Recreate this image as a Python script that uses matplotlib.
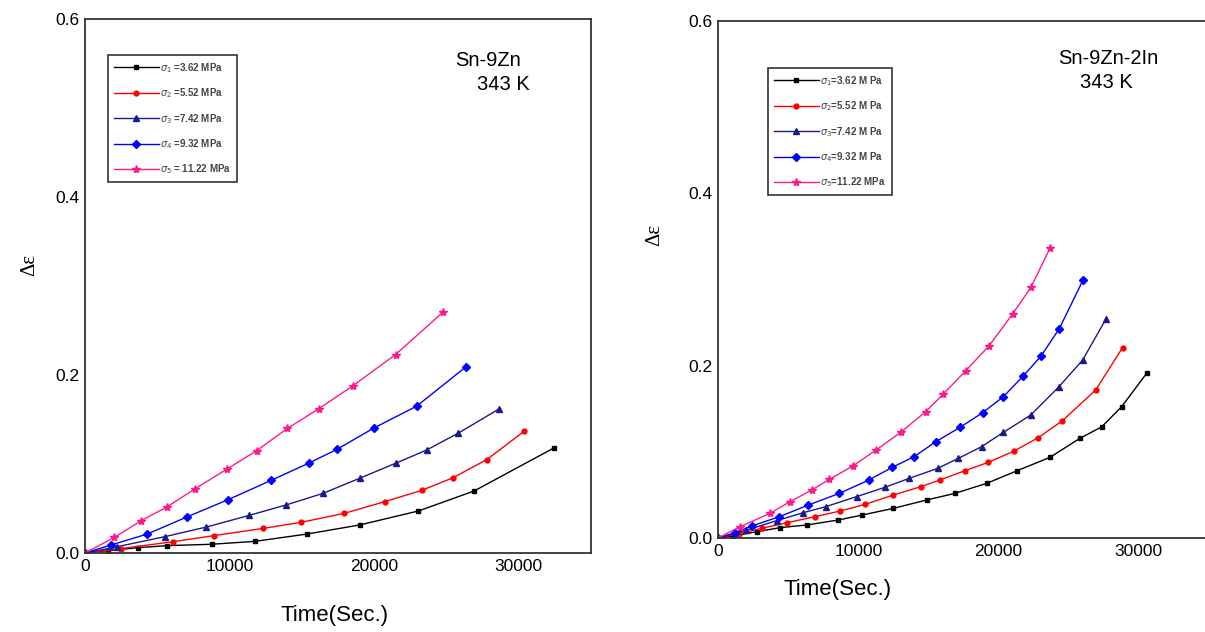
import matplotlib
matplotlib.use("Agg")
import matplotlib.pyplot as plt

plt.rcParams['font.family'] = ['Liberation Sans', 'DejaVu Sans']
plt.rcParams['mathtext.fontset'] = 'dejavusans'

# ---- Sn-9Zn, 343 K ----
t1_s1 = [0, 1570, 3650, 5690, 8750, 11760, 15350, 19000, 23060, 26920, 32430]
e1_s1 = [0, 0.0026, 0.006, 0.0083, 0.0098, 0.0131, 0.0213, 0.0315, 0.0472, 0.0697, 0.118]
t1_s2 = [0, 2500, 6090, 8910, 12340, 14930, 17940, 20740, 23290, 25420, 27800, 30390]
e1_s2 = [0, 0.005, 0.0127, 0.0195, 0.0277, 0.0344, 0.0446, 0.0577, 0.0704, 0.0843, 0.105, 0.137]
t1_s3 = [0, 2200, 5510, 8400, 11365, 13910, 16460, 19000, 21480, 23630, 25830, 28660]
e1_s3 = [0, 0.007, 0.0183, 0.0292, 0.0423, 0.054, 0.067, 0.084, 0.1008, 0.1157, 0.1348, 0.162]
t1_s4 = [0, 1800, 4306, 7035, 9910, 12870, 15460, 17430, 19980, 22940, 26340]
e1_s4 = [0, 0.009, 0.0213, 0.0404, 0.060, 0.0816, 0.1008, 0.1165, 0.1404, 0.165, 0.209]
t1_s5 = [0, 2040, 3890, 5690, 7590, 9790, 11875, 14000, 16160, 18540, 21480, 24790]
e1_s5 = [0, 0.0176, 0.0363, 0.052, 0.0719, 0.094, 0.115, 0.140, 0.162, 0.188, 0.223, 0.271]

# ---- Sn-9Zn-2In, 343 K ----
t2_s1 = [0, 1090, 2760, 4420, 6320, 8580, 10290, 12500, 14870, 16890, 19150, 21330, 23660, 25800, 27350, 28770, 30550]
e2_s1 = [0, 0.0023, 0.0073, 0.012, 0.0151, 0.0209, 0.0267, 0.0344, 0.0441, 0.0518, 0.0634, 0.0781, 0.0936, 0.1157, 0.129, 0.1523, 0.191]
t2_s2 = [0, 1500, 3110, 4940, 6910, 8700, 10480, 12500, 14450, 15820, 17600, 19270, 21100, 22830, 24540, 26920, 28840]
e2_s2 = [0, 0.005, 0.0112, 0.0178, 0.0247, 0.0313, 0.039, 0.0499, 0.0595, 0.0673, 0.0781, 0.0878, 0.1009, 0.1164, 0.136, 0.1717, 0.221]
t2_s3 = [0, 2000, 4180, 6080, 7670, 9880, 11900, 13630, 15660, 17130, 18790, 20340, 22290, 24300, 25990, 27650]
e2_s3 = [0, 0.009, 0.0201, 0.0294, 0.0363, 0.048, 0.0588, 0.0692, 0.0808, 0.0924, 0.106, 0.1226, 0.1427, 0.1755, 0.2065, 0.254]
t2_s4 = [0, 1200, 2400, 4370, 6440, 8650, 10760, 12420, 13970, 15520, 17250, 18860, 20340, 21760, 23020, 24330, 26040]
e2_s4 = [0, 0.006, 0.0139, 0.0247, 0.0383, 0.0518, 0.0673, 0.082, 0.0943, 0.1117, 0.1284, 0.1454, 0.164, 0.188, 0.211, 0.243, 0.300]
t2_s5 = [0, 1570, 3700, 5130, 6680, 7940, 9600, 11260, 13020, 14800, 16060, 17650, 19320, 21000, 22310, 23660]
e2_s5 = [0, 0.0131, 0.0286, 0.0421, 0.0557, 0.068, 0.0835, 0.102, 0.1226, 0.1466, 0.167, 0.194, 0.223, 0.260, 0.291, 0.336]

labels1 = [r'$\sigma_1$ =3.62 MPa', r'$\sigma_2$ =5.52 MPa', r'$\sigma_3$ =7.42 MPa',
           r'$\sigma_4$ =9.32 MPa', r'$\sigma_5$ = 11.22 MPa']
labels2 = [r'$\sigma_1$=3.62 M Pa', r'$\sigma_2$=5.52 M Pa', r'$\sigma_3$=7.42 M Pa',
           r'$\sigma_4$=9.32 M Pa', r'$\sigma_5$=11.22 MPa']

colors = ['black', '#ff0000', '#1a1a8c', '#0000ff', '#ff1a8c']
markers = ['s', 'o', '^', 'D', '*']
msizes = [3, 3.5, 5, 4.5, 6]

fig = plt.figure(figsize=(12.05, 6.32), dpi=100)
ax1 = fig.add_axes([85 / 1205, 1 - 553 / 632, 506 / 1205, 534 / 632])
ax2 = fig.add_axes([718 / 1205, 1 - 538 / 632, 491 / 1205, 517 / 632])


def draw(ax, series, labels, legend_pos):
    for (t, e), lab, c, m, ms in zip(series, labels, colors, markers, msizes):
        ax.plot(t, e, color=c, marker=m, markersize=ms, lw=1, label=lab)
    ax.set_xlim(0, 35000)
    ax.set_ylim(0, 0.6)
    ax.set_xticks([0, 10000, 20000, 30000])
    ax.set_yticks([0.0, 0.2, 0.4, 0.6])
    ax.set_yticklabels(['0.0', '0.2', '0.4', '0.6'])
    ax.tick_params(length=0, labelsize=12.5, pad=4)
    for s in ax.spines.values():
        s.set_linewidth(1.3)
        s.set_color('#333333')
    leg = ax.legend(loc='upper left', bbox_to_anchor=legend_pos,
                    bbox_transform=fig.transFigure, fontsize=7,
                    frameon=True, fancybox=False, edgecolor='black',
                    handlelength=4.6, labelspacing=1.2, borderpad=0.6,
                    handletextpad=0.2, borderaxespad=0)
    leg.get_frame().set_linewidth(1.2)
    for txt in leg.get_texts():
        txt.set_color('#444444')
        txt.set_fontweight('bold')


draw(ax1, [(t1_s1, e1_s1), (t1_s2, e1_s2), (t1_s3, e1_s3), (t1_s4, e1_s4), (t1_s5, e1_s5)],
     labels1, (108 / 1205, 1 - 55 / 632))
draw(ax2, [(t2_s1, e2_s1), (t2_s2, e2_s2), (t2_s3, e2_s3), (t2_s4, e2_s4), (t2_s5, e2_s5)],
     labels2, (768 / 1205, 1 - 68 / 632))

fig.text(488 / 1205, 1 - 60 / 632, 'Sn-9Zn', fontsize=14.5, ha='center', va='center')
fig.text(503 / 1205, 1 - 85 / 632, '343 K', fontsize=14.5, ha='center', va='center')
fig.text(1108 / 1205, 1 - 58 / 632, 'Sn-9Zn-2In', fontsize=14.5, ha='center', va='center')
fig.text(1106 / 1205, 1 - 82 / 632, '343 K', fontsize=14.5, ha='center', va='center')

fig.text(30 / 1205, 1 - 265 / 632, 'Δε', fontsize=15, rotation=90,
         ha='center', va='center', family=['Liberation Serif', 'DejaVu Serif'])
fig.text(655 / 1205, 1 - 235 / 632, 'Δε', fontsize=15, rotation=90,
         ha='center', va='center', family=['Liberation Serif', 'DejaVu Serif'])
fig.text(335 / 1205, 1 - 615 / 632, 'Time(Sec.)', fontsize=16, ha='center', va='center')
fig.text(838 / 1205, 1 - 590 / 632, 'Time(Sec.)', fontsize=16, ha='center', va='center')

fig.savefig('out.png', dpi=100)
